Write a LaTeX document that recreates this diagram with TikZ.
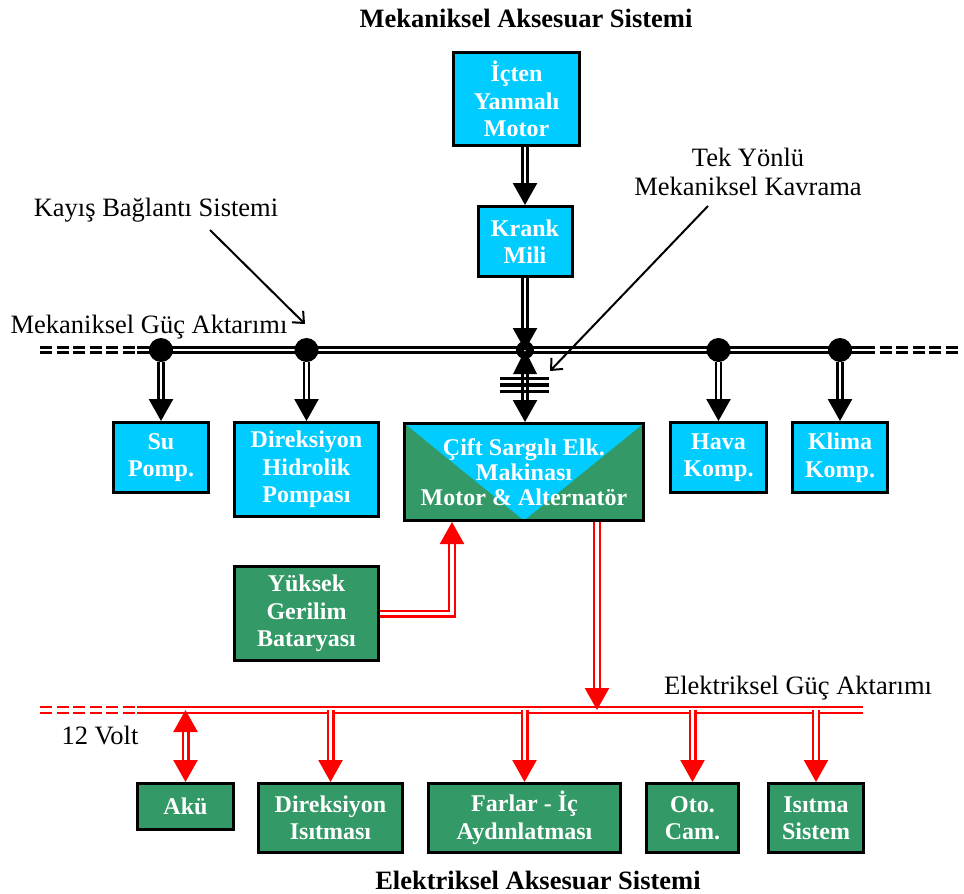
\documentclass[tikz,border=0pt]{standalone}
\usepackage{fontspec}
\setmainfont{Liberation Serif}
\usetikzlibrary{arrows.meta,calc}

\definecolor{boxcyan}{RGB}{0,204,255}
\definecolor{boxgreen}{RGB}{51,153,102}

\begin{document}
\begin{tikzpicture}[x=1pt,y=-1pt,
  box/.style={draw=black, line width=3pt, text=white, align=center, inner sep=0pt,
    font=\fontsize{24}{27.5}\selectfont\bfseries},
  mbox/.style={box, fill=boxcyan},
  ebox/.style={box, fill=boxgreen},
  lbl/.style={font=\fontsize{26.5}{29}\selectfont, align=center, inner sep=0pt},
  ttl/.style={font=\fontsize{26.5}{30}\selectfont\bfseries, inner sep=0pt},
  shaft/.style={draw=black, double=white, line width=2.6pt, double distance=2.6pt},
  eline/.style={draw=red, double=white, line width=2.4pt, double distance=3.2pt},
  btip/.style={-{Triangle[length=22pt,width=24pt]}},
  rtip/.style={-{Triangle[length=22pt,width=24pt]}},
  rtips/.style={{Triangle[length=22pt,width=24pt]}-{Triangle[length=22pt,width=24pt]}},
  hub/.style={circle, fill=black, inner sep=0pt, minimum size=24pt},
  pointer/.style={draw=black, line width=2pt, -{Straight Barb[length=9pt,width=16pt]}},
  busdash/.style={dash pattern=on 12pt off 4.5pt},
]
\useasboundingbox (0,0) rectangle (964,894);

% titles and labels
\node[ttl] (ttlM) at (526,18) {Mekaniksel Aksesuar Sistemi};
\node[ttl] (ttlE) at (538,880) {Elektriksel Aksesuar Sistemi};
\node[lbl] (kayis) at (156,210) {Kayış Bağlantı Sistemi};
\node[lbl] (mga) at (149,327) {Mekaniksel Güç Aktarımı};
\node[lbl] (tek) at (748,172) {Tek Yönlü\\Mekaniksel Kavrama};
\node[lbl] (ega) at (798,688) {Elektriksel Güç Aktarımı};
\node[lbl] (volt) at (100,735) {12 Volt};

% mechanical boxes
\node[mbox, minimum width=126pt, minimum height=93pt] (mot) at (516.5,99) {İçten\\Yanmalı\\Motor};
\node[mbox, minimum width=94pt, minimum height=70pt] (krank) at (525,241.5) {Krank\\Mili};
\node[mbox, minimum width=95pt, minimum height=70pt] (su) at (161,457.5) {Su\\Pomp.};
\node[mbox, minimum width=144pt, minimum height=94pt] (dhp) at (306.5,469.5) {Direksiyon\\Hidrolik\\Pompası};
\node[mbox, minimum width=96pt, minimum height=70pt] (hava) at (718.5,457.5) {Hava\\Komp.};
\node[mbox, minimum width=95pt, minimum height=70pt] (klima) at (840,457.5) {Klima\\Komp.};

% dual winding machine: green box with a cyan wedge
\node[ebox, minimum width=239pt, minimum height=97pt,
  font=\fontsize{24}{25}\selectfont\bfseries,
  path picture={\fill[boxcyan] (path picture bounding box.north west)
     -- (path picture bounding box.north east)
     -- (path picture bounding box.south) -- cycle;}]
  (dual) at (524,472) {Çift Sargılı Elk.\\Makinası\\Motor \& Alternatör};

% electrical boxes
\node[ebox, minimum width=144pt, minimum height=94pt] (yuk) at (306.5,613.5) {Yüksek\\Gerilim\\Bataryası};
\node[ebox, minimum width=96pt, minimum height=46pt] (aku) at (185.5,806.5) {Akü};
\node[ebox, minimum width=144pt, minimum height=69pt] (dis) at (330.5,818) {Direksiyon\\Isıtması};
\node[ebox, minimum width=192pt, minimum height=69pt] (far) at (524.5,818) {Farlar - İç\\Aydınlatması};
\node[ebox, minimum width=92pt, minimum height=69pt] (oto) at (692.5,818) {Oto.\\Cam.};
\node[ebox, minimum width=95pt, minimum height=69pt] (isi) at (816,818) {Isıtma\\Sistem};

% mechanical power bus
\coordinate (mL) at (40,350);
\coordinate (mLs) at (137,350);
\coordinate (mRs) at (863,350);
\coordinate (mR) at (960,350);
\draw[shaft, busdash] (mL) -- (mLs);
\draw[shaft] (mLs) -- (mRs);
\draw[shaft, busdash] (mRs) -- (mR);

\node[hub] (h1) at (161,350) {};
\node[hub] (h2) at (306.5,350) {};
\node[hub, minimum size=18pt] (h3) at (525,350) {};
\node[hub] (h4) at (718.5,350) {};
\node[hub] (h5) at (840,350) {};

% engine to crankshaft to bus
\draw[shaft, btip] (mot.south -| krank.north) -- (krank.north);
\draw[shaft, btip] (krank.south) -- (h3.center);

% belt-driven accessories
\draw[shaft, btip] (h1) -- (h1 |- su.north);
\draw[shaft, btip] (h2) -- (h2 |- dhp.north);
\draw[shaft, btip] (h4) -- (h4 |- hava.north);
\draw[shaft, btip] (h5) -- (h5 |- klima.north);

% one-way clutch to the electric machine
\draw[shaft, btip] (h3.center) -- (h3 |- dual.north);
\fill[black] (h3.center) -- ($(h3.center)+(-12,24)$) -- ($(h3.center)+(12,24)$) -- cycle;
\foreach \dy in {28.5,35,41.5}
  \draw[line width=3.5pt] ($(h3.center)+(-25,\dy)$) -- ($(h3.center)+(24,\dy)$);

% label pointers
\coordinate (kA) at (210,230);
\coordinate (kB) at (305,324);
\coordinate (tA) at (708,206);
\coordinate (tB) at (550,371);
\draw[pointer] (kA) -- (kB);
\draw[pointer] (tA) -- (tB);

% electrical power bus
\coordinate (eL) at (40,710);
\coordinate (eLs) at (137,710);
\coordinate (eRs) at (863,710);
\draw[eline, busdash] (eL) -- (eLs);
\draw[eline] (eLs) -- (eRs);

% high-voltage battery and machine output
\coordinate (dIn) at ($(dual.south west)+(49,0)$);
\coordinate (dOut) at ($(dual.south east)+(-48,0)$);
\draw[eline, rtip] (yuk.east) -| (dIn);
\draw[eline, rtip] (dOut) -- (dOut |- eLs);

% 12 V consumers
\draw[eline, rtips] (aku.north |- eLs) -- (aku.north);
\draw[eline, rtip] (dis.north |- eLs) -- (dis.north);
\draw[eline, rtip] (far.north |- eLs) -- (far.north);
\draw[eline, rtip] (oto.north |- eLs) -- (oto.north);
\draw[eline, rtip] (isi.north |- eLs) -- (isi.north);
\end{tikzpicture}
\end{document}
